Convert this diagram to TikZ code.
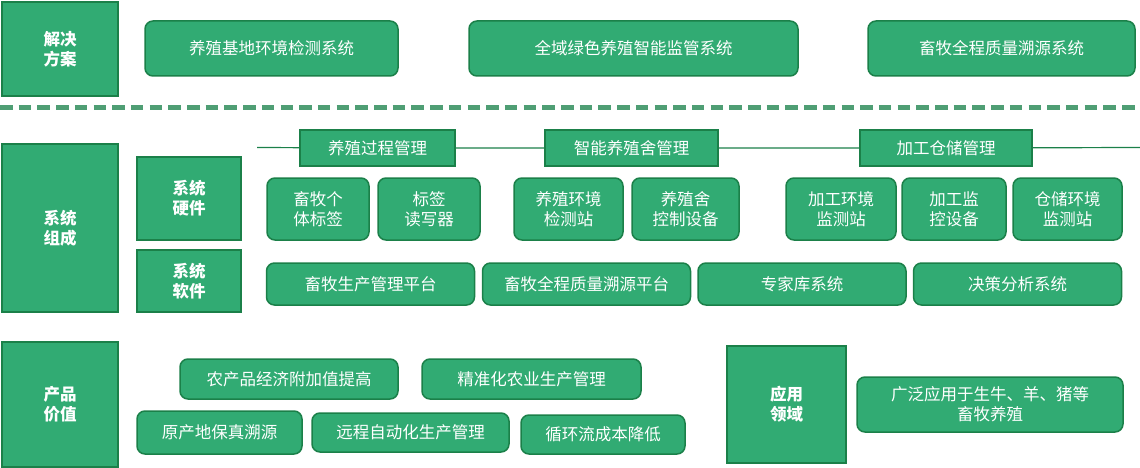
\documentclass[tikz,border=0pt]{standalone}
\usepackage{fontspec}
\setmainfont{Noto Sans CJK SC}
\usepackage{tikz}
\usetikzlibrary{positioning}

\definecolor{gfill}{HTML}{31AB73}
\definecolor{gline}{HTML}{1B8049}
\definecolor{gdash}{HTML}{4F9E74}

\tikzset{
  hbox/.style={draw=gline, fill=gfill, line width=1.5pt, text=white, align=center,
    font=\fontsize{16.5}{20}\selectfont\bfseries, inner sep=0pt},
  gbox/.style={draw=gline, fill=gfill, line width=1.5pt, rounded corners=8pt, text=white,
    align=center, font=\fontsize{16.5}{20}\selectfont, inner sep=0pt},
  mbox/.style={draw=gline, fill=gfill, line width=1.5pt, text=white, align=center,
    font=\fontsize{16.5}{20}\selectfont, inner sep=0pt, minimum height=36pt}
}

\begin{document}
\begin{tikzpicture}[x=1pt, y=-1pt]
\useasboundingbox (0,0) rectangle (1140,468);

% 解决方案
\node[hbox, minimum width=116pt, minimum height=94pt] (sol) at (60,49) {解决\\方案};
\foreach \i/\x/\w/\t in {
  1/271.5/253/养殖基地环境检测系统, 2/633.5/329/全域绿色养殖智能监管系统,
  3/1001.5/267/畜牧全程质量溯源系统} {
  \node[gbox, minimum width=\w pt, minimum height=55pt] (s\i) at (\x,48.5) {\t};
}

% 分隔线
\coordinate (dl) at (0,107.5);
\coordinate (dr) at (1140,107.5);
\draw[gdash, line width=4.5pt, dash pattern=on 12.5pt off 6.2pt] (dl) -- (dr);

% 系统组成
\node[hbox, minimum width=116pt, minimum height=168pt] (sys) at (60,228) {系统\\组成};
\node[hbox, minimum width=104pt, minimum height=83pt] (hw) at (189,198.5) {系统\\硬件};
\node[hbox, minimum width=104pt, minimum height=62pt] (sw) at (189,281) {系统\\软件};

% 管理
\foreach \i/\x/\w/\t in {
  1/377.5/155/养殖过程管理, 2/631.5/173/智能养殖舍管理, 3/946/172/加工仓储管理} {
  \node[mbox, minimum width=\w pt] (m\i) at (\x,148) {\t};
}
\coordinate (ml) at (257,147.5);
\coordinate (mr) at (1140,147.5);
\draw[gline, line width=1.2pt] (ml) -- (m1) -- (m2) -- (m3) -- (mr);

% 硬件
\foreach \i/\x/\w/\t in {
  1/318/102/{畜牧个\\体标签}, 2/429/102/{标签\\读写器}, 3/568.5/109/{养殖环境\\检测站},
  4/685.5/107/{养殖舍\\控制设备}, 5/841/110/{加工环境\\监测站}, 6/954/104/{加工监\\控设备},
  7/1067.5/109/{仓储环境\\监测站}} {
  \node[gbox, minimum width=\w pt, minimum height=62pt] (h\i) at (\x,209) {\t};
}

% 软件
\foreach \i/\x/\t in {
  1/370.5/畜牧生产管理平台, 2/586.5/畜牧全程质量溯源平台,
  3/802/专家库系统, 4/1017.5/决策分析系统} {
  \node[gbox, minimum width=208pt, minimum height=42pt] (w\i) at (\x,284) {\t};
}

% 产品价值
\node[hbox, minimum width=116pt, minimum height=125pt] (val) at (60,404.5) {产品\\价值};
\foreach \i/\x/\y/\w/\h/\t in {
  1/289/379/218/40/农产品经济附加值提高, 2/531.5/379/219/40/精准化农业生产管理,
  3/219.5/432.5/165/43/原产地保真溯源, 4/410.5/432.5/197/39/远程自动化生产管理,
  5/603/434.5/164/39/循环流成本降低} {
  \node[gbox, minimum width=\w pt, minimum height=\h pt] (v\i) at (\x,\y) {\t};
}

% 应用领域
\node[hbox, minimum width=119pt, minimum height=117pt] (app) at (786.5,404.5) {应用\\领域};
\node[gbox, minimum width=266pt, minimum height=55pt] (a1) at (990,404.5)
  {广泛应用于生牛、羊、猪等\\畜牧养殖};
\end{tikzpicture}
\end{document}
